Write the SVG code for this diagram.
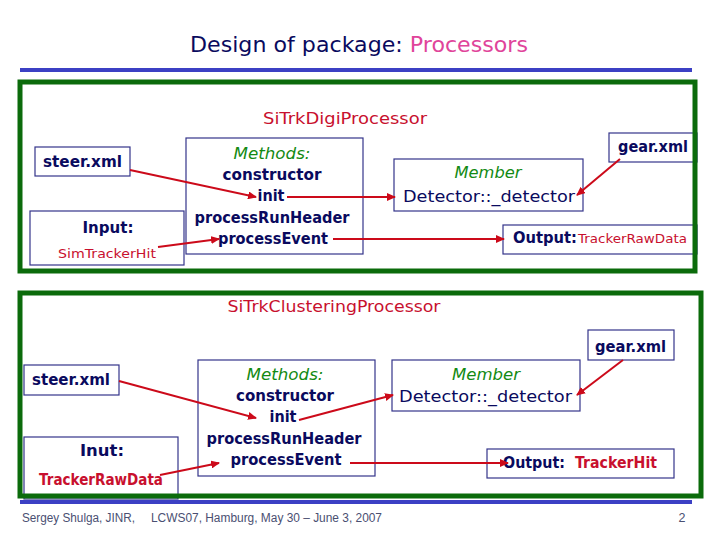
<svg xmlns="http://www.w3.org/2000/svg" width="720" height="540" viewBox="0 0 720 540">
<style>
text{font-family:"DejaVu Sans","Liberation Sans",sans-serif;}
.nv{fill:#0a0a5e;font-size:16px;font-weight:bold;}
.nr{fill:#0a0a5e;font-size:16px;}
.gr{fill:#138a13;font-size:16px;font-style:italic;}
.rd{fill:#c8102e;}
.box{fill:#ffffff;stroke:#34348a;stroke-width:1.2;}
.frame{fill:none;stroke:#0b6b0b;stroke-width:5;}
.bl{stroke:#3c40c4;stroke-width:4;}
.con{fill:none;stroke:#cc0a1a;stroke-width:2;marker-end:url(#ah);}
.ft{font-family:"Liberation Sans",Arial,sans-serif;font-size:12.5px;fill:#4a4f72;}
</style>
<defs>
<marker id="ah" markerUnits="userSpaceOnUse" markerWidth="9" markerHeight="8" refX="8" refY="4" orient="auto">
<path d="M0,0 L9,4 L0,8 Z" fill="#cc0a1a"/>
</marker>
</defs>
<rect width="720" height="540" fill="#ffffff"/>

<g id="title">
<text x="359" y="52" text-anchor="middle" font-size="22" textLength="338" lengthAdjust="spacingAndGlyphs"><tspan fill="#0a0a5e">Design of package: </tspan><tspan fill="#e0449a">Processors</tspan></text>
<line class="bl" x1="20" y1="70" x2="692" y2="70"/>
</g>

<!-- Upper processor -->
<g id="digi-boxes">
<g id="u-steer"><rect class="box" x="35" y="147" width="95" height="29"/>
<text class="nv" x="43" y="167" textLength="79" lengthAdjust="spacingAndGlyphs">steer.xml</text></g>
<g id="u-input"><rect class="box" x="30" y="211" width="154" height="54"/>
<text class="nv" x="108" y="233" text-anchor="middle" textLength="51" lengthAdjust="spacingAndGlyphs">Input:</text>
<text class="rd" x="107" y="258" text-anchor="middle" font-size="13" textLength="98" lengthAdjust="spacingAndGlyphs">SimTrackerHit</text></g>
<g id="u-methods"><rect class="box" x="186" y="138" width="177" height="116"/>
<text class="gr" x="272" y="159" text-anchor="middle" textLength="77" lengthAdjust="spacingAndGlyphs">Methods:</text>
<text class="nv" x="272" y="180" text-anchor="middle" textLength="99" lengthAdjust="spacingAndGlyphs">constructor</text>
<text class="nv" x="271" y="201" text-anchor="middle" textLength="27" lengthAdjust="spacingAndGlyphs">init</text>
<text class="nv" x="272" y="223" text-anchor="middle" textLength="155" lengthAdjust="spacingAndGlyphs">processRunHeader</text>
<text class="nv" x="273" y="244" text-anchor="middle" textLength="110" lengthAdjust="spacingAndGlyphs">processEvent</text></g>
<g id="u-member"><rect class="box" x="394" y="159" width="189" height="52"/>
<text class="gr" x="488" y="178" text-anchor="middle" textLength="67" lengthAdjust="spacingAndGlyphs">Member</text>
<text class="nr" x="489" y="202" text-anchor="middle" textLength="172" lengthAdjust="spacingAndGlyphs">Detector::_detector</text></g>
<g id="u-gear"><rect class="box" x="609" y="133" width="88" height="29"/>
<text class="nv" x="618" y="152" textLength="70" lengthAdjust="spacingAndGlyphs">gear.xml</text></g>
<g id="u-output"><rect class="box" x="503" y="225" width="194" height="29"/>
<text x="513" y="243"><tspan class="nv" textLength="64" lengthAdjust="spacingAndGlyphs">Output:</tspan><tspan class="rd" x="578" font-size="13" textLength="109" lengthAdjust="spacingAndGlyphs">TrackerRawData</tspan></text></g>
<text id="u-title" class="rd" x="345" y="124" text-anchor="middle" font-size="16" textLength="164" lengthAdjust="spacingAndGlyphs">SiTrkDigiProcessor</text>
</g>
<rect id="digi-frame" class="frame" x="20" y="82" width="675" height="189"/>

<!-- Lower processor -->
<g id="clus-boxes">
<g id="l-steer"><rect class="box" x="24" y="365" width="95" height="30"/>
<text class="nv" x="32" y="385" textLength="78" lengthAdjust="spacingAndGlyphs">steer.xml</text></g>
<g id="l-input"><rect class="box" x="24" y="437" width="154" height="62"/>
<text class="nv" x="102" y="456" text-anchor="middle" textLength="44" lengthAdjust="spacingAndGlyphs">Inut:</text>
<text class="rd" x="39" y="485" font-size="15" font-weight="bold" textLength="124" lengthAdjust="spacingAndGlyphs">TrackerRawData</text></g>
<g id="l-methods"><rect class="box" x="198" y="360" width="177" height="116"/>
<text class="gr" x="285" y="380" text-anchor="middle" textLength="77" lengthAdjust="spacingAndGlyphs">Methods:</text>
<text class="nv" x="285" y="401" text-anchor="middle" textLength="98" lengthAdjust="spacingAndGlyphs">constructor</text>
<text class="nv" x="283" y="422" text-anchor="middle" textLength="27" lengthAdjust="spacingAndGlyphs">init</text>
<text class="nv" x="284" y="444" text-anchor="middle" textLength="155" lengthAdjust="spacingAndGlyphs">processRunHeader</text>
<text class="nv" x="286" y="465" text-anchor="middle" textLength="111" lengthAdjust="spacingAndGlyphs">processEvent</text></g>
<g id="l-member"><rect class="box" x="392" y="360" width="188" height="51"/>
<text class="gr" x="486" y="380" text-anchor="middle" textLength="68" lengthAdjust="spacingAndGlyphs">Member</text>
<text class="nr" x="399" y="402" textLength="173" lengthAdjust="spacingAndGlyphs">Detector::_detector</text></g>
<g id="l-gear"><rect class="box" x="588" y="330" width="86" height="30"/>
<text class="nv" x="595" y="352" textLength="71" lengthAdjust="spacingAndGlyphs">gear.xml</text></g>
<g id="l-output"><rect class="box" x="487" y="449" width="187" height="29"/>
<text x="503" y="468"><tspan class="nv" textLength="62" lengthAdjust="spacingAndGlyphs">Output:</tspan><tspan class="rd" x="575" font-weight="bold" textLength="82" lengthAdjust="spacingAndGlyphs">TrackerHit</tspan></text></g>
<text id="l-title" class="rd" x="334" y="312" text-anchor="middle" font-size="16" textLength="213" lengthAdjust="spacingAndGlyphs">SiTrkClusteringProcessor</text>
</g>
<rect id="clus-frame" class="frame" x="20" y="293" width="681" height="203"/>

<g id="connectors">
<line class="con" x1="130" y1="170" x2="256" y2="197"/>
<line class="con" x1="158" y1="247" x2="219" y2="239"/>
<line class="con" x1="287" y1="197" x2="395" y2="197"/>
<line class="con" x1="333" y1="239" x2="504" y2="239"/>
<line class="con" x1="620" y1="159" x2="577" y2="195"/>
<line class="con" x1="119" y1="381" x2="256" y2="418"/>
<line class="con" x1="160" y1="475" x2="219" y2="463"/>
<line class="con" x1="299" y1="420" x2="393" y2="395"/>
<line class="con" x1="350" y1="463" x2="508" y2="463"/>
<line class="con" x1="623" y1="360" x2="577" y2="395"/>
</g>

<g id="footer">
<line class="bl" x1="20" y1="502" x2="692" y2="502"/>
<text class="ft" x="22" y="522" textLength="113" lengthAdjust="spacingAndGlyphs">Sergey Shulga, JINR,</text>
<text class="ft" x="151" y="522" textLength="231" lengthAdjust="spacingAndGlyphs">LCWS07, Hamburg, May 30 – June 3, 2007</text>
<text class="ft" x="682" y="522" text-anchor="middle">2</text>
</g>
</svg>
